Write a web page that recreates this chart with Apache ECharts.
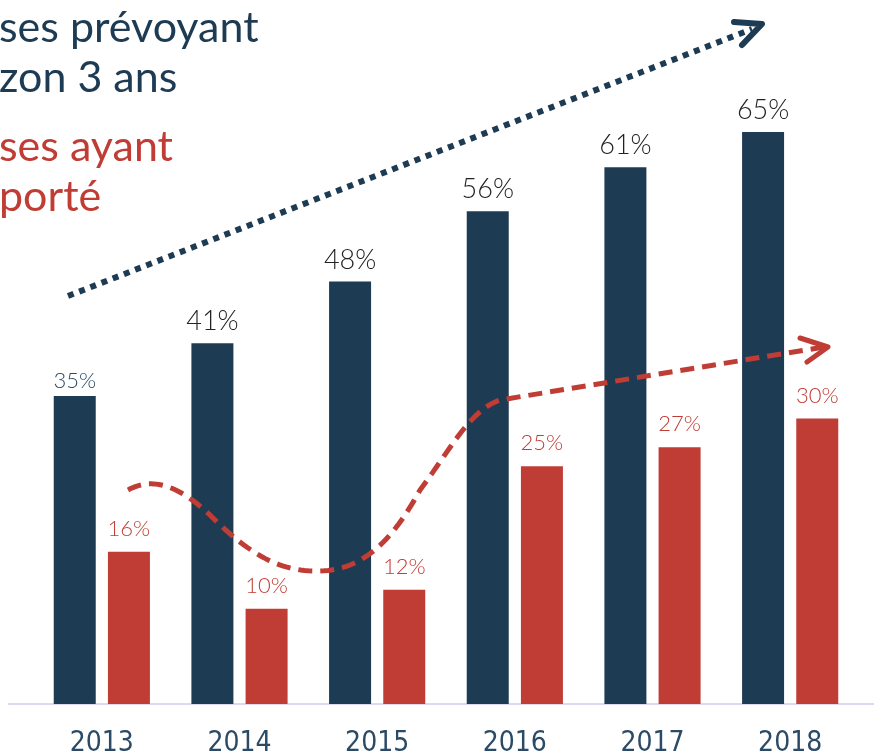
<!DOCTYPE html>
<html>
<head>
<meta charset="utf-8">
<script src="https://cdn.jsdelivr.net/npm/echarts@6/dist/echarts.min.js"></script>
<style>html,body{margin:0;padding:0;background:#fff}#c{width:874px;height:754px}</style>
</head>
<body>
<div id="c"></div>
<script>
// Data
const years = ['2013', '2014', '2015', '2016', '2017', '2018'];
const prevoyant = [35, 41, 48, 56, 61, 65];   // navy bars
const ayant = [16, 10, 12, 25, 27, 30];       // red bars
const textNavy = ['ses prévoyant', 'zon 3 ans'];
const textRed = ['ses ayant', 'porté'];

const NAVY = '#1e3b54';
const RED = '#c03d35';
const FONT = 'Lato, "Open Sans", sans-serif';

// decorative curve (annotation) sampled from cubic segments
function cubic(p0, c1, c2, p1, n) {
  const out = [];
  for (let k = 1; k <= n; k++) {
    const t = k / n, u = 1 - t;
    out.push([
      u*u*u*p0[0] + 3*u*u*t*c1[0] + 3*u*t*t*c2[0] + t*t*t*p1[0],
      u*u*u*p0[1] + 3*u*u*t*c1[1] + 3*u*t*t*c2[1] + t*t*t*p1[1]
    ]);
  }
  return out;
}
let curve = [[128, 490]];
curve = curve.concat(cubic([128,490],[150,478],[175,482],[210,515],30));
curve = curve.concat(cubic([210,515],[250,555],[280,572],[320,571],30));
curve = curve.concat(cubic([320,571],[360,570],[390,545],[420,490],30));
curve = curve.concat(cubic([420,490],[450,450],[470,410],[500,400],30));
curve.push([824, 347]);

const chart = echarts.init(document.getElementById('c'));

const navyData = prevoyant.map((v, i) => ({
  value: v,
  label: i === 0
    ? { color: '#2b4a66', fontSize: 22, distance: 4 }
    : { color: '#222222', fontSize: 27, distance: 8 }
}));

const txt = (s, y, color) => ({
  type: 'text', x: -1, y: y, z: 20,
  style: { text: s, fill: color, font: '43px ' + FONT, textVerticalAlign: 'middle', verticalAlign: 'middle' }
});

chart.setOption({
  animation: false,
  backgroundColor: '#ffffff',
  grid: { left: 33, right: 15, top: 0, bottom: 50, containLabel: false, outerBoundsMode: 'none' },
  xAxis: {
    type: 'category',
    data: years,
    axisLine: { show: false },
    axisTick: { show: false },
    axisLabel: {
      color: '#2b4a66',
      fontSize: 28,
      fontFamily: '"Liberation Sans Narrow", "DejaVu Sans Condensed", sans-serif',
      margin: 26
    }
  },
  yAxis: [
    { type: 'value', min: 0, max: 80, show: false },
    { type: 'value', min: 0, max: 74, show: false }
  ],
  series: [
    {
      type: 'bar', yAxisIndex: 0, data: navyData,
      barWidth: 42, barGap: '29%',
      itemStyle: { color: NAVY },
      label: { show: true, position: 'top', formatter: '{c}%', fontFamily: FONT, fontWeight: 300 }
    },
    {
      type: 'bar', yAxisIndex: 1, data: ayant,
      barWidth: 42,
      itemStyle: { color: RED },
      label: { show: true, position: 'top', formatter: '{c}%', fontFamily: FONT, fontWeight: 300,
               color: RED, fontSize: 22, distance: 12 }
    }
  ],
  graphic: [
    { type: 'line', shape: { x1: 8, y1: 704, x2: 874, y2: 704 }, style: { stroke: '#dcdaf2', lineWidth: 2 }, z: 0 },
    txt(textNavy[0], 28, NAVY),
    txt(textNavy[1], 78, NAVY),
    txt(textRed[0], 147, RED),
    txt(textRed[1], 197, RED),
    { type: 'line', shape: { x1: 68, y1: 296, x2: 752, y2: 29 },
      style: { stroke: NAVY, lineWidth: 6, lineDash: [6, 6] }, z: 10 },
    { type: 'polyline', shape: { points: [[734, 22], [762, 24], [742, 45]] },
      style: { stroke: NAVY, lineWidth: 6, lineCap: 'round', lineJoin: 'round', fill: null }, z: 10 },
    { type: 'polyline', shape: { points: curve },
      style: { stroke: RED, lineWidth: 5, lineDash: [14, 8], fill: null }, z: 10 },
    { type: 'polyline', shape: { points: [[800, 338], [828, 347], [807, 362]] },
      style: { stroke: RED, lineWidth: 5, lineCap: 'round', lineJoin: 'round', fill: null }, z: 10 }
  ]
});
</script>
</body>
</html>
